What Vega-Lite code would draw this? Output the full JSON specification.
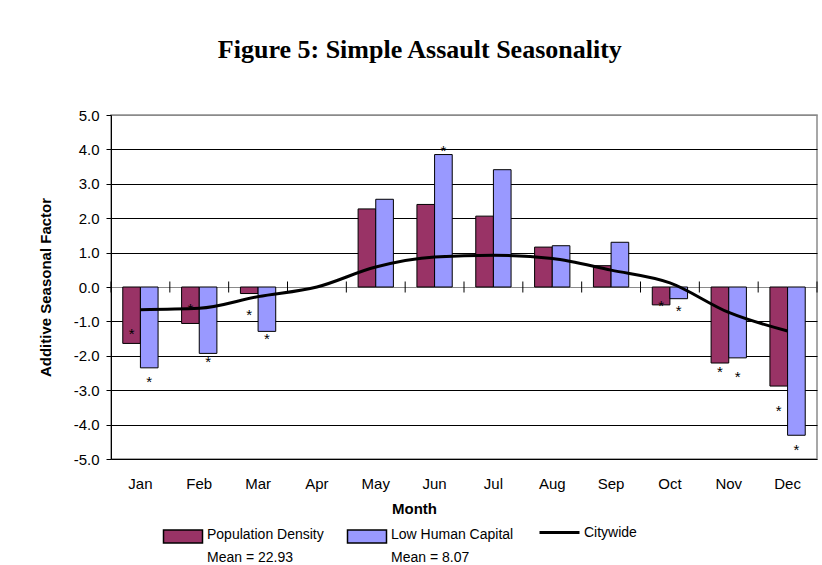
{
  "$schema": "https://vega.github.io/schema/vega-lite/v6.json",
  "autosize": "none",
  "width": 706,
  "height": 344,
  "padding": {"left": 111, "top": 115, "right": 5, "bottom": 106},
  "background": "white",
  "title": {
    "text": "Figure 5: Simple Assault Seasonality",
    "font": "Liberation Serif",
    "fontSize": 26,
    "fontWeight": "bold",
    "color": "black",
    "anchor": "middle",
    "frame": "bounds",
    "baseline": "alphabetic",
    "offset": 24,
    "dx": -8
  },
  "data": {
    "values": [
      {"month": "Jan", "series": "Population Density", "value": -1.64, "star": -1.26},
      {"month": "Jan", "series": "Low Human Capital", "value": -2.35, "star": -2.65},
      {"month": "Feb", "series": "Population Density", "value": -1.06, "star": -0.53},
      {"month": "Feb", "series": "Low Human Capital", "value": -1.93, "star": -2.06},
      {"month": "Mar", "series": "Population Density", "value": -0.19, "star": -0.70},
      {"month": "Mar", "series": "Low Human Capital", "value": -1.29, "star": -1.40},
      {"month": "May", "series": "Population Density", "value": 2.27, "star": null},
      {"month": "May", "series": "Low Human Capital", "value": 2.55, "star": null},
      {"month": "Jun", "series": "Population Density", "value": 2.40, "star": null},
      {"month": "Jun", "series": "Low Human Capital", "value": 3.85, "star": 4.07},
      {"month": "Jul", "series": "Population Density", "value": 2.06, "star": null},
      {"month": "Jul", "series": "Low Human Capital", "value": 3.41, "star": null},
      {"month": "Aug", "series": "Population Density", "value": 1.16, "star": null},
      {"month": "Aug", "series": "Low Human Capital", "value": 1.20, "star": null},
      {"month": "Sep", "series": "Population Density", "value": 0.62, "star": null},
      {"month": "Sep", "series": "Low Human Capital", "value": 1.30, "star": null},
      {"month": "Oct", "series": "Population Density", "value": -0.52, "star": -0.44},
      {"month": "Oct", "series": "Low Human Capital", "value": -0.34, "star": -0.58},
      {"month": "Nov", "series": "Population Density", "value": -2.21, "star": -2.35},
      {"month": "Nov", "series": "Low Human Capital", "value": -2.06, "star": -2.51},
      {"month": "Dec", "series": "Population Density", "value": -2.88, "star": -3.50},
      {"month": "Dec", "series": "Low Human Capital", "value": -4.31, "star": -4.63},
      {"month": "Jan", "series": "Citywide", "value": -0.66, "star": null},
      {"month": "Feb", "series": "Citywide", "value": -0.62, "star": null},
      {"month": "Mar", "series": "Citywide", "value": -0.28, "star": null},
      {"month": "Apr", "series": "Citywide", "value": 0.0, "star": null},
      {"month": "May", "series": "Citywide", "value": 0.58, "star": null},
      {"month": "Jun", "series": "Citywide", "value": 0.87, "star": null},
      {"month": "Jul", "series": "Citywide", "value": 0.92, "star": null},
      {"month": "Aug", "series": "Citywide", "value": 0.83, "star": null},
      {"month": "Sep", "series": "Citywide", "value": 0.49, "star": null},
      {"month": "Oct", "series": "Citywide", "value": 0.12, "star": null},
      {"month": "Nov", "series": "Citywide", "value": -0.74, "star": null},
      {"month": "Dec", "series": "Citywide", "value": -1.28, "star": null}
    ]
  },
  "encoding": {
    "x": {
      "field": "month",
      "type": "nominal",
      "sort": ["Jan","Feb","Mar","Apr","May","Jun","Jul","Aug","Sep","Oct","Nov","Dec"],
      "scale": {"paddingInner": 0.4, "paddingOuter": 0.2},
      "axis": {
        "orient": "bottom",
        "title": "Month",
        "titleFont": "Liberation Sans",
        "titleFontSize": 15,
        "titleFontWeight": "bold",
        "titleColor": "black",
        "titleX": 303,
        "titlePadding": 10,
        "labelFont": "Liberation Sans",
        "labelFontSize": 15,
        "labelColor": "black",
        "labelAngle": 0,
        "labelPadding": 17,
        "ticks": false,
        "tickSize": 0,
        "domain": false,
        "grid": false
      }
    },
    "y": {
      "field": "value", "type": "quantitative",
      "scale": {"domain": [-5, 5], "nice": false, "zero": false},
      "axis": {
        "values": [-5,-4,-3,-2,-1,0,1,2,3,4,5],
        "format": ".1f",
        "labelExpr": "replace(datum.label, '−', '-')",
        "labelOverlap": false,
        "title": "Additive Seasonal Factor",
        "titleFont": "Liberation Sans",
        "titleFontSize": 15,
        "titleFontWeight": "bold",
        "titleColor": "black",
        "titlePadding": 20,
        "labelFont": "Liberation Sans",
        "labelFontSize": 15,
        "labelColor": "black",
        "labelPadding": 7,
        "tickSize": 5,
        "tickColor": "black",
        "domainColor": "black",
        "domainWidth": 1,
        "grid": true,
        "gridColor": {"condition": {"test": "datum.value === 0 || datum.value === 5", "value": "#8a8a8a"}, "value": "black"},
        "gridWidth": 1,
        "gridOpacity": 1
      }
    }
  },
  "layer": [
    {
      "transform": [{"filter": "datum.series !== 'Citywide'"}],
      "mark": {"type": "bar", "stroke": "black", "strokeWidth": 1},
      "encoding": {
        "xOffset": {
          "field": "series", "type": "nominal",
          "sort": ["Population Density", "Low Human Capital"],
          "scale": {"paddingInner": 0, "paddingOuter": 0}
        },
        "fill": {
          "field": "series", "type": "nominal",
          "scale": {"domain": ["Population Density", "Low Human Capital"], "range": ["#993366", "#9999FF"]},
          "legend": {
            "orient": "none",
            "legendX": 58,
            "legendY": 410,
            "direction": "horizontal",
            "columns": 2,
            "title": null,
            "padding": 0,
            "columnPadding": 20,
            "symbolType": "M-1.5,-0.69H1.5V0.31H-1.5Z",
            "symbolSize": 676,
            "symbolStrokeColor": "black",
            "symbolStrokeWidth": 1.5,
            "symbolOpacity": 1,
            "labelOffset": 10,
            "labelFont": "Liberation Sans",
            "labelFontSize": 14,
            "labelColor": "black",
            "labelLimit": 300,
            "labelBaseline": "alphabetic",
            "labelExpr": "datum.label === 'Population Density' ? ['Population Density', 'Mean = 22.93'] : ['Low  Human Capital', 'Mean = 8.07']"
          }
        }
      }
    },
    {
      "transform": [{"filter": "datum.star !== null"}],
      "mark": {"type": "text", "text": "*", "font": "Liberation Sans", "fontSize": 15, "color": "black", "baseline": "middle", "dy": 4},
      "encoding": {
        "xOffset": {
          "field": "series", "type": "nominal",
          "sort": ["Population Density", "Low Human Capital"]
        },
        "y": {"field": "star", "type": "quantitative"}
      }
    },
    {
      "transform": [{"filter": "datum.series === 'Citywide'"}],
      "mark": {"type": "tick", "orient": "vertical", "size": 11, "thickness": 1, "color": "black", "opacity": 1},
      "encoding": {
        "x": {
          "field": "month", "type": "nominal", "bandPosition": -0.3333,
          "sort": ["Jan","Feb","Mar","Apr","May","Jun","Jul","Aug","Sep","Oct","Nov","Dec"]
        },
        "y": {"datum": 0}
      }
    },
    {
      "transform": [{"filter": "datum.series === 'Citywide' && datum.month === 'Dec'"}],
      "mark": {"type": "tick", "orient": "vertical", "size": 11, "thickness": 1, "color": "black", "opacity": 1},
      "encoding": {
        "x": {
          "field": "month", "type": "nominal", "bandPosition": 1.3333,
          "sort": ["Jan","Feb","Mar","Apr","May","Jun","Jul","Aug","Sep","Oct","Nov","Dec"]
        },
        "y": {"datum": 0}
      }
    },
    {
      "transform": [{"filter": "datum.series === 'Citywide'"}],
      "mark": {"type": "line", "strokeWidth": 3, "interpolate": "monotone"},
      "encoding": {
        "stroke": {
          "field": "series", "type": "nominal",
          "scale": {"domain": ["Citywide"], "range": ["black"]},
          "legend": {
            "orient": "none",
            "legendX": 427,
            "legendY": 396,
            "title": null,
            "padding": 0,
            "symbolType": "stroke",
            "symbolSize": 1600,
            "symbolStrokeWidth": 3,
            "symbolStrokeColor": "black",
            "labelOffset": 3,
            "labelFont": "Liberation Sans",
            "labelFontSize": 14,
            "labelColor": "black"
          }
        }
      }
    }
  ],
  "config": {
    "view": {"stroke": "#8a8a8a", "strokeWidth": 1.5},
    "style": {"guide-label": {"lineHeight": 23}}
  }
}
